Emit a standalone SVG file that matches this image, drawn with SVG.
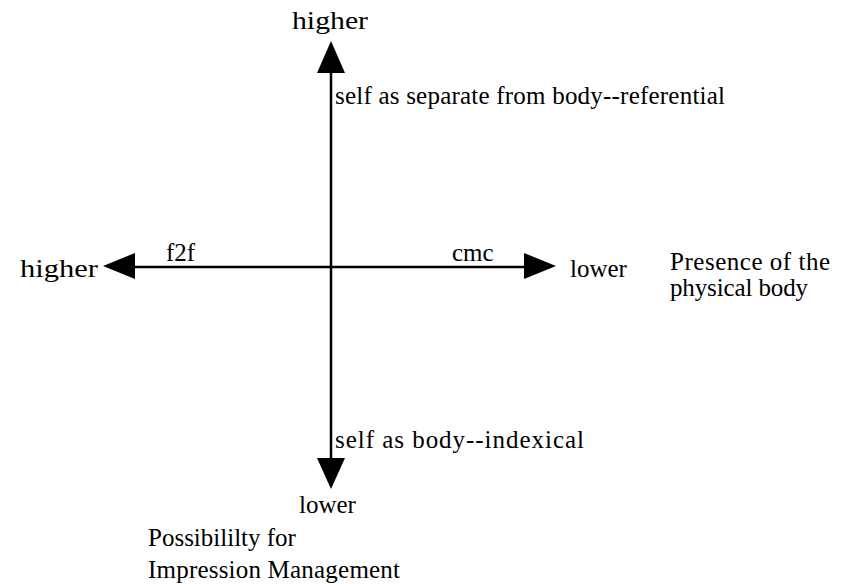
<svg xmlns="http://www.w3.org/2000/svg" width="853" height="584" viewBox="0 0 853 584">
<style>
text{font-family:"Liberation Serif","DejaVu Serif",serif;font-size:25px;fill:#000}
.ax{stroke:#000;stroke-width:2.5;fill:none}
.ah{fill:#000;stroke:none}
</style>
<rect width="853" height="584" fill="#fff"/>
<g id="connectors">
<line class="ax" x1="331" y1="70" x2="331" y2="460"/>
<line class="ax" x1="133" y1="267" x2="526" y2="267"/>
<polygon class="ah" points="331,41 317,73 345,73"/>
<polygon class="ah" points="331,489 317,458 345,458"/>
<polygon class="ah" points="103,266 135,253 135,279"/>
<polygon class="ah" points="556,266 524,253 524,279"/>
</g>
<g id="top-label"><text x="292" y="29" textLength="76" lengthAdjust="spacingAndGlyphs">higher</text></g>
<g id="upper-desc"><text x="335" y="104" textLength="390" lengthAdjust="spacing">self as separate from body--referential</text></g>
<g id="left-label"><text x="20" y="277" textLength="78" lengthAdjust="spacingAndGlyphs">higher</text></g>
<g id="f2f"><text x="166" y="261">f2f</text></g>
<g id="cmc"><text x="452" y="261">cmc</text></g>
<g id="right-label"><text x="570" y="277">lower</text></g>
<g id="presence"><text x="670" y="270" textLength="160" lengthAdjust="spacing">Presence of the</text><text x="670" y="296" textLength="138" lengthAdjust="spacing">physical body</text></g>
<g id="lower-desc"><text x="335" y="448" textLength="249" lengthAdjust="spacing">self as body--indexical</text></g>
<g id="bottom-label"><text x="299" y="513">lower</text></g>
<g id="impression"><text x="148" y="546">Possibililty for</text><text x="148" y="578" textLength="252" lengthAdjust="spacing">Impression Management</text></g>
</svg>
